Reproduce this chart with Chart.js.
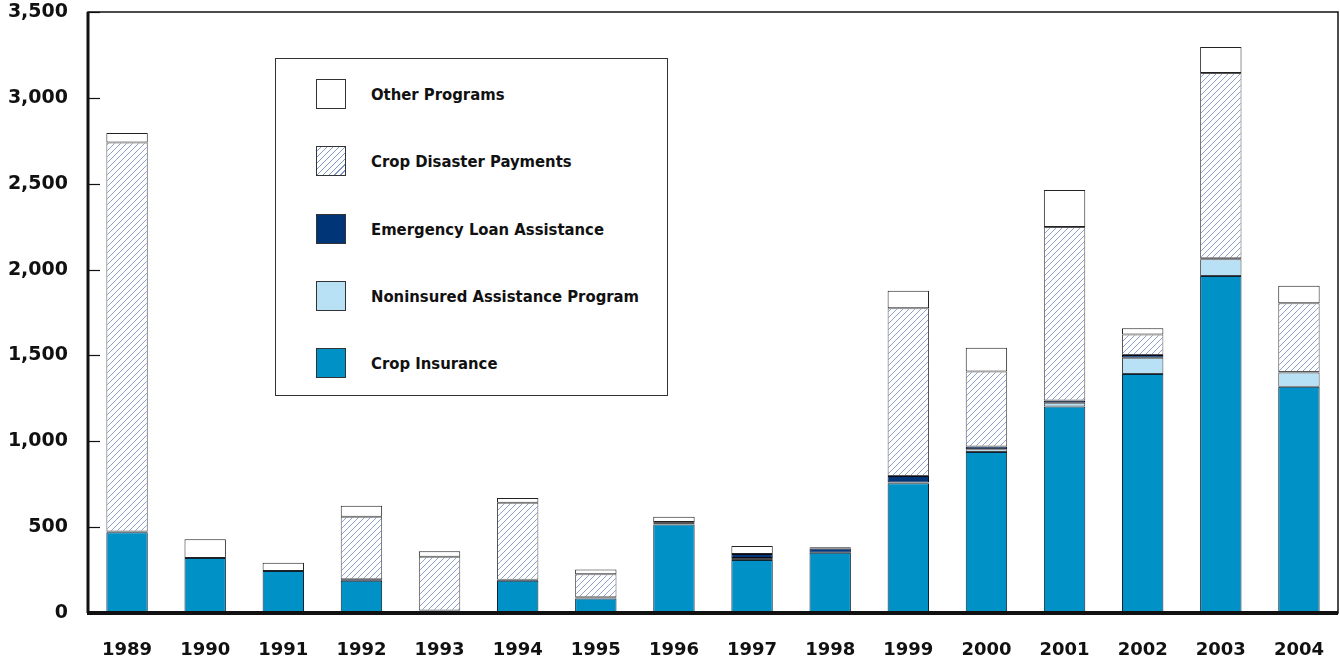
<!DOCTYPE html>
<html>
<head>
<meta charset="utf-8">
<script src="https://cdn.jsdelivr.net/npm/chart.js@4.4.0/dist/chart.umd.min.js"></script>
<style>
  html, body { margin: 0; padding: 0; background: #fff; }
  #wrap { position: relative; width: 1340px; height: 661px; }
  #legendBox {
    position: absolute; left: 275px; top: 58px; width: 393px; height: 338px;
    border: 1px solid #333; background: #fff; box-sizing: border-box;
    font-family: "DejaVu Sans Condensed", "DejaVu Sans", sans-serif; font-weight: bold;
    font-size: 16.5px; color: #111;
  }
  .item { position: absolute; left: 40px; height: 30px; display: flex; align-items: center; }
  .sw { width: 28px; height: 28px; border: 1px solid #333; margin-right: 25px; }
</style>
</head>
<body>
<div id="wrap">
  <canvas id="chart" width="1340" height="661"></canvas>
  <div id="legendBox"></div>
</div>
<script>
// values (millions of dollars)
const years = ['1989','1990','1991','1992','1993','1994','1995','1996','1997','1998','1999','2000','2001','2002','2003','2004'];
const cropInsurance = [470, 320, 245, 188, 15, 188, 84, 515, 308, 351, 755, 938, 1202, 1392, 1963, 1318];
const noninsured    = [0, 0, 0, 0, 0, 0, 8, 3, 12, 0, 5, 16, 23, 95, 97, 82];
const emergencyLoan = [5, 0, 0, 8, 0, 5, 0, 0, 24, 24, 38, 15, 12, 15, 6, 4];
const cropDisaster  = [2265, 0, 0, 365, 313, 449, 133, 12, 0, 0, 977, 437, 1011, 120, 1079, 400];
const otherPrograms = [55, 110, 47, 64, 31, 28, 29, 30, 46, 8, 102, 139, 215, 36, 151, 102];
const yTicks = [0, 500, 1000, 1500, 2000, 2500, 3000, 3500];

function hatchPattern() {
    const c = document.createElement('canvas');
    c.width = 6; c.height = 6;
    const g = c.getContext('2d');
    g.fillStyle = '#fff';
    g.fillRect(0, 0, 6, 6);
    g.strokeStyle = '#8199c9';
    g.lineWidth = 0.9;
    g.beginPath();
    g.moveTo(0, 6); g.lineTo(6, 0);
    g.moveTo(-3, 3); g.lineTo(3, -3);
    g.moveTo(3, 9); g.lineTo(9, 3);
    g.stroke();
    return document.getElementById('chart').getContext('2d').createPattern(c, 'repeat');
}
const hatch = hatchPattern();

const series = [
    { label: 'Crop Insurance', data: cropInsurance, color: '#0092c7', border: '#0d2233' },
    { label: 'Noninsured Assistance Program', data: noninsured, color: '#b9e1f6', border: '#444' },
    { label: 'Emergency Loan Assistance', data: emergencyLoan, color: '#003577', border: '#0a0a1a' },
    { label: 'Crop Disaster Payments', data: cropDisaster, color: hatch, border: '#555' },
    { label: 'Other Programs', data: otherPrograms, color: '#ffffff', border: '#222' }
];

// frame, inward tick marks and thick base line
const framePlugin = {
    id: 'frame',
    afterDatasetsDraw(chart) {
        const { ctx, chartArea: a, scales: { y } } = chart;
        ctx.save();
        ctx.strokeStyle = '#111';
        ctx.lineWidth = 1.5;
        ctx.strokeRect(a.left, a.top, a.right - a.left, a.bottom - a.top);
        ctx.lineWidth = 1.2;
        yTicks.forEach(v => {
            const py = Math.round(y.getPixelForValue(v)) + 0.5;
            ctx.beginPath();
            ctx.moveTo(a.left, py);
            ctx.lineTo(a.left + 12, py);
            ctx.stroke();
        });
        ctx.lineWidth = 3;
        ctx.beginPath();
        ctx.moveTo(a.left, a.top);
        ctx.lineTo(a.left, a.bottom);
        ctx.stroke();
        ctx.lineWidth = 4;
        ctx.beginPath();
        ctx.moveTo(a.left - 1, a.bottom);
        ctx.lineTo(a.right, a.bottom);
        ctx.stroke();
        ctx.restore();
    }
};

new Chart(document.getElementById('chart'), {
    type: 'bar',
    data: {
        labels: years,
        datasets: series.map(s => ({
            label: s.label,
            data: s.data,
            backgroundColor: s.color,
            borderColor: s.border,
            borderWidth: 1,
            borderSkipped: false,
            barPercentage: 0.53,
            categoryPercentage: 1
        }))
    },
    options: {
        responsive: false,
        animation: false,
        layout: { padding: { top: 12, right: 2, left: 0, bottom: 0 } },
        plugins: { legend: { display: false }, tooltip: { enabled: false } },
        scales: {
            x: {
                stacked: true,
                grid: { display: false, drawTicks: false },
                border: { display: false },
                ticks: { color: '#111', padding: 27, font: { family: 'DejaVu Sans', weight: 'bold', size: 18 } },
                afterFit(scale) { scale.height = 48; scale.paddingLeft = 0; scale.paddingRight = 0; }
            },
            y: {
                stacked: true,
                min: 0, max: 3500,
                grid: { display: false, drawTicks: false },
                border: { display: false },
                ticks: { stepSize: 500, color: '#111', padding: 20, font: { family: 'DejaVu Sans', weight: 'bold', size: 19 } },
                afterFit(scale) { scale.width = 88; scale.paddingTop = 0; scale.paddingBottom = 0; }
            }
        }
    },
    plugins: [framePlugin]
});

// legend, top to bottom as in the reference
const legendBox = document.getElementById('legendBox');
const swatchCss = {
    'Other Programs': 'background:#fff;',
    'Crop Disaster Payments': 'background:repeating-linear-gradient(-45deg,#fff 0 2.6px,#8199c9 2.6px 3.6px,#fff 3.6px 4.2px);',
    'Emergency Loan Assistance': 'background:#003577;',
    'Noninsured Assistance Program': 'background:#b9e1f6;',
    'Crop Insurance': 'background:#0092c7;'
};
const legendTops = [20, 87, 155, 222, 289];
series.slice().reverse().forEach((s, i) => {
    const row = document.createElement('div');
    row.className = 'item';
    row.style.top = legendTops[i] + 'px';
    row.innerHTML = '<div class="sw" style="' + swatchCss[s.label] + '"></div><span>' + s.label + '</span>';
    legendBox.appendChild(row);
});
</script>
</body>
</html>
